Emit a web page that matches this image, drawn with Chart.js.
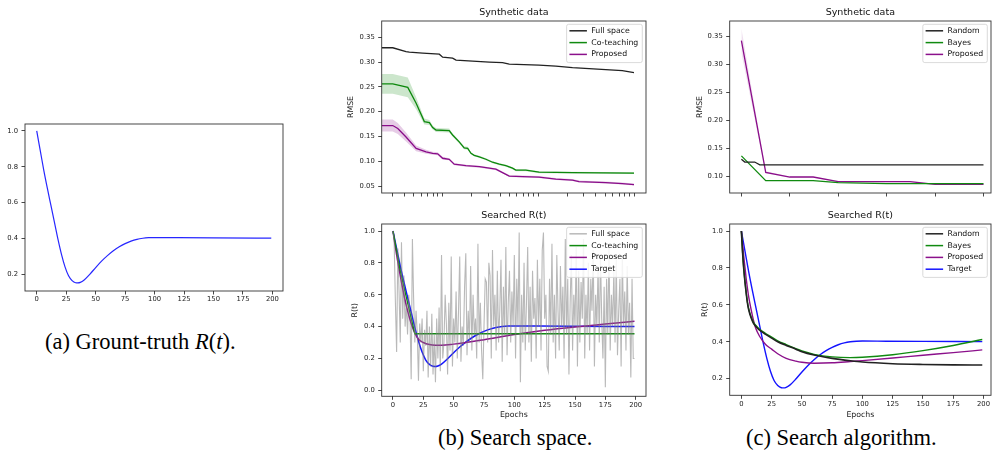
<!DOCTYPE html>
<html>
<head>
<meta charset="utf-8">
<script src="https://cdn.jsdelivr.net/npm/chart.js@4.4.0/dist/chart.umd.min.js"></script>
<style>
html, body { margin: 0; padding: 0; background: #fff; }
body { width: 993px; height: 458px; position: relative; overflow: hidden; }
canvas { position: absolute; }
.cap { position: absolute; font-family: "Liberation Serif", serif; font-size: 22.5px; line-height: 1; white-space: nowrap; color: #000; }
</style>
</head>
<body>
<canvas id="ga"></canvas>
<canvas id="gb1"></canvas>
<canvas id="gb2"></canvas>
<canvas id="gc1"></canvas>
<canvas id="gc2"></canvas>
<div class="cap" style="left:45px;top:331px">(a) Grount-truth <i>R</i>(<i>t</i>).</div>
<div class="cap" style="left:438px;top:427px">(b) Search space.</div>
<div class="cap" style="left:746px;top:427px">(c) Search algorithm.</div>
<script>
// ground truth R(t), same curve is the "Target" in (b) and (c)
const targetT = [0, 3, 6, 9, 12, 15, 18, 21, 24, 27, 30, 33, 35, 37, 40, 45, 50, 55, 60, 65, 70, 75, 80, 85, 90, 95, 100, 120, 150, 199];
const targetR = [1.0, 0.89, 0.78, 0.68, 0.585, 0.49, 0.395, 0.31, 0.24, 0.19, 0.163, 0.151, 0.15, 0.153, 0.165, 0.198, 0.236, 0.272, 0.303, 0.33, 0.352, 0.37, 0.384, 0.394, 0.4, 0.403, 0.404, 0.403, 0.402, 0.401];

// (b) top: RMSE vs iterations (log x)
const fullX = [2.33, 3.04, 4.18, 4.53, 6.24, 9.3, 10.08, 12.8, 13.9, 20.7, 30.9, 42.5, 49.9, 102, 153, 228, 340, 507, 755, 1000];
const fullRmse = [0.329, 0.329, 0.321, 0.320, 0.318, 0.316, 0.310, 0.308, 0.304, 0.302, 0.300, 0.299, 0.296, 0.294, 0.292, 0.289, 0.287, 0.285, 0.283, 0.279];
const coX = [2.33, 3.04, 4.36, 5.33, 6.49, 7.33, 7.93, 8.59, 11.8, 12.8, 15.0, 16.9, 18.4, 19.9, 21.5, 24.3, 28.5, 33.4, 39.3, 46.0, 54.0, 58.5, 74.4, 102, 228, 1000];
const coRmse = [0.256, 0.256, 0.249, 0.217, 0.180, 0.178, 0.168, 0.163, 0.162, 0.153, 0.139, 0.127, 0.126, 0.116, 0.112, 0.109, 0.104, 0.098, 0.094, 0.091, 0.086, 0.082, 0.082, 0.078, 0.077, 0.076];
const coStd = [0.020, 0.020, 0.020, 0.012, 0.006, 0.005, 0.004, 0.004, 0.004, 0.003, 0.003, 0.003, 0.003, 0.002, 0.002, 0.002, 0.002, 0.002, 0.002, 0.002, 0.002, 0.002, 0.002, 0.002, 0.002, 0.002];
const propX = [2.33, 3.04, 3.43, 4.18, 5.33, 6.76, 7.93, 8.94, 10.08, 11.8, 13.3, 17.6, 20.7, 24.3, 30.9, 36.2, 42.5, 49.9, 68.7, 102, 153, 228, 267, 507, 755, 1000];
const propRmse = [0.172, 0.172, 0.166, 0.149, 0.126, 0.119, 0.116, 0.115, 0.106, 0.104, 0.094, 0.091, 0.090, 0.089, 0.086, 0.084, 0.077, 0.070, 0.069, 0.068, 0.064, 0.062, 0.059, 0.057, 0.055, 0.053];
const propStd = [0.012, 0.012, 0.011, 0.009, 0.006, 0.004, 0.003, 0.003, 0.003, 0.002, 0.002, 0.002, 0.002, 0.002, 0.002, 0.002, 0.002, 0.002, 0.002, 0.002, 0.002, 0.002, 0.002, 0.002, 0.002, 0.002];

// (b) bottom: searched R(t)
const fullSpaceR = [
  1.0, 0.92, 0.55, 0.24, 0.89, 0.62, 0.3, 0.93, 0.45, 0.72, 0.4, 0.55, 0.35, 0.6, 0.48, 0.07, 0.95, 0.58, 0.3, 0.5,
  0.36, 0.06, 0.42, 0.3, 0.45, 0.12, 0.38, 0.28, 0.5, 0.08, 0.4, 0.15, 0.48, 0.1, 0.35, 0.05, 0.45, 0.2, 0.52, 0.12,
  0.85, 0.2, 0.3, 0.6, 0.42, 0.1, 0.55, 0.25, 0.84, 0.15, 0.45, 0.3, 0.62, 0.2, 0.5, 0.84, 0.18, 0.4, 0.28, 0.65,
  0.86, 0.22, 0.5, 0.3, 0.78, 0.25, 0.6, 0.35, 0.45, 0.2, 0.92, 0.3, 0.55, 0.25, 0.07, 0.4, 0.7, 0.68, 0.3, 0.8,
  0.72, 0.2, 0.88, 0.4, 0.6, 0.25, 0.75, 0.3, 0.5, 0.82, 0.18, 0.65, 0.35, 0.9, 0.22, 0.55, 0.75, 0.3, 0.62, 0.4,
  0.85, 0.2, 0.7, 0.4, 0.99, 0.05, 0.6, 0.3, 0.8, 0.25, 0.55, 0.9, 0.3, 0.65, 0.18, 0.75, 0.45, 0.58, 0.2, 0.82,
  0.4, 0.7, 0.25, 0.88, 0.99, 0.45, 0.6, 0.15, 0.12, 0.7, 0.35, 0.92, 0.3, 0.6, 0.2, 0.85, 0.5, 0.25, 0.78, 0.4,
  0.65, 0.2, 0.95, 0.35, 0.7, 0.1, 0.55, 0.85, 0.25, 0.6, 0.4, 0.9, 0.15, 0.75, 0.3, 0.68, 0.45, 0.95, 0.2, 0.6,
  0.35, 0.8, 0.25, 0.7, 0.5, 0.88, 0.15, 0.6, 0.4, 0.78, 0.3, 0.85, 0.45, 0.2, 0.65, 0.02, 0.7, 0.35, 0.9, 0.25,
  0.6, 0.4, 0.75, 0.3, 0.82, 0.22, 0.5, 0.7, 0.15, 0.85, 0.4, 0.62, 0.25, 0.78, 0.35, 0.55, 0.08, 0.7, 0.2, 0.2
];
const coT = [0, 6, 12, 18, 199];
const coR = [1.0, 0.75, 0.55, 0.355, 0.355];
const propT = [0, 3, 6, 9, 12, 15, 18, 21, 25, 30, 35, 40, 50, 60, 75, 100, 125, 150, 175, 199];
const propR = [1.0, 0.85, 0.72, 0.6, 0.5, 0.42, 0.36, 0.32, 0.3, 0.287, 0.283, 0.283, 0.29, 0.3, 0.318, 0.35, 0.377, 0.398, 0.416, 0.433];

// (c) top: RMSE per search algorithm
const randIt = [0, 2.8, 11, 15.2, 200];
const randRmse = [0.131, 0.126, 0.126, 0.121, 0.121];
const bayesIt = [0, 20.1, 59.3, 80, 120, 200];
const bayesRmse = [0.137, 0.093, 0.093, 0.0894, 0.0876, 0.0876];
const algIt = [0, 20.1, 40, 59.3, 80, 139.3, 160, 200];
const algRmse = [0.3417, 0.1077, 0.0994, 0.0994, 0.0911, 0.0911, 0.0864, 0.0864];
const algStd = [0.022, 0.002, 0.001, 0.001, 0.001, 0.001, 0.001, 0.001];

// (c) bottom: searched R(t)
const algT = [0, 1, 2, 3, 4, 5, 6, 8, 10, 12, 15, 20, 25, 30, 37, 45, 50, 60, 75, 90, 100, 125, 150, 175, 199];
const randR = [1.0, 0.88, 0.79, 0.72, 0.66, 0.61, 0.575, 0.53, 0.5, 0.483, 0.463, 0.44, 0.42, 0.4, 0.38, 0.36, 0.346, 0.328, 0.31, 0.297, 0.29, 0.281, 0.277, 0.275, 0.274];
const bayesR = [1.0, 0.885, 0.795, 0.725, 0.665, 0.615, 0.58, 0.535, 0.505, 0.488, 0.468, 0.445, 0.425, 0.405, 0.385, 0.363, 0.35, 0.332, 0.318, 0.314, 0.316, 0.33, 0.352, 0.38, 0.412];
const algR = [1.0, 0.93, 0.86, 0.8, 0.74, 0.69, 0.645, 0.575, 0.515, 0.47, 0.43, 0.385, 0.36, 0.335, 0.31, 0.295, 0.289, 0.284, 0.286, 0.293, 0.298, 0.312, 0.327, 0.341, 0.356];

const pts = (xs, ys) => xs.map((x, i) => ({x: x, y: ys[i]}));
const band = (xs, ys, sd, s) => xs.map((x, i) => ({x: x, y: ys[i] + s * sd[i]}));

Chart.defaults.font.family = 'DejaVu Sans';
Chart.defaults.color = '#222';
Chart.defaults.animation = false;
Chart.defaults.plugins.legend.display = false;
Chart.defaults.plugins.tooltip.enabled = false;
Chart.defaults.elements.point.radius = 0;

// matplotlib-ish frame, title and legend
Chart.register({
  id: 'mpl',
  afterDraw(chart, args, o) {
    const c = chart.ctx, a = chart.chartArea;
    c.save();
    c.strokeStyle = '#333';
    c.lineWidth = 0.9;
    c.strokeRect(a.left, a.top, a.right - a.left, a.bottom - a.top);
    if (o.title) {
      c.fillStyle = '#111';
      c.font = '9.5px "DejaVu Sans"';
      c.textAlign = 'center';
      c.textBaseline = 'middle';
      c.fillText(o.title, (a.left + a.right) / 2, a.top - 8);
    }
    if (o.legend) {
      const items = chart.data.datasets.filter(d => !d.band);
      c.font = '7.8px "DejaVu Sans"';
      const tw = Math.max(...items.map(d => c.measureText(d.label).width));
      const w = 2.8 + 17.5 + 4.3 + tw + 4;
      const h = 14.7 + (items.length - 1) * 11.8;
      const x0 = a.right - 3.7 - w, y0 = a.top + 3.3;
      c.beginPath();
      c.roundRect(x0, y0, w, h, 2);
      c.fillStyle = 'rgba(255,255,255,0.85)';
      c.fill();
      c.strokeStyle = '#d0d0d0';
      c.lineWidth = 0.8;
      c.stroke();
      items.forEach((d, i) => {
        const y = y0 + 6.5 + i * 11.8;
        c.strokeStyle = d.borderColor;
        c.lineWidth = 1.5;
        c.beginPath();
        c.moveTo(x0 + 2.8, y);
        c.lineTo(x0 + 20.3, y);
        c.stroke();
        c.fillStyle = '#111';
        c.textAlign = 'left';
        c.textBaseline = 'middle';
        c.fillText(d.label, x0 + 24.6, y);
      });
    }
    c.restore();
  }
});

function axis(o) {
  return {
    type: o.type || 'linear',
    min: o.min,
    max: o.max,
    border: {display: false},
    grid: {drawOnChartArea: false, drawTicks: true, tickLength: 3.5, color: '#333', tickWidth: 0.9},
    ticks: {
      display: o.show !== false, font: {size: 6.8}, color: '#222', padding: o.pad || 1,
      autoSkip: false, maxRotation: 0,
      callback: v => o.dec === undefined ? v : Number(v).toFixed(o.dec)
    },
    title: o.title ? {display: true, text: o.title, font: {size: 7.8}, color: '#222', padding: 0} : {display: false},
    afterBuildTicks: s => { s.ticks = o.ticks.map(v => ({value: v})); },
    afterFit: s => { if (s.isHorizontal()) s.height = o.size; else s.width = o.size; }
  };
}

function line(label, data, color, width, extra) {
  return Object.assign({label: label, data: data, borderColor: color, borderWidth: width || 1.3, fill: false, tension: 0, pointRadius: 0}, extra || {});
}

function panel(id, box, pad, datasets, xs, ys, mpl) {
  const cv = document.getElementById(id);
  cv.width = box.r - box.l + pad.l + pad.r;
  cv.height = box.b - box.t + pad.t + pad.b;
  cv.style.left = (box.l - pad.l) + 'px';
  cv.style.top = (box.t - pad.t) + 'px';
  xs.size = pad.b;
  ys.size = pad.l;
  return new Chart(cv, {
    type: 'line',
    data: {datasets: datasets},
    options: {
      responsive: false,
      layout: {padding: {left: 0, top: pad.t, right: pad.r, bottom: 0}},
      scales: {x: axis(xs), y: axis(ys)},
      plugins: {mpl: mpl}
    }
  });
}

const t25 = [0, 25, 50, 75, 100, 125, 150, 175, 200];
const smooth = {cubicInterpolationMode: 'monotone'};

// (a)
panel('ga', {l: 25, r: 283, t: 124, b: 291}, {l: 30, r: 8, t: 12, b: 16},
  [line('Target', pts(targetT, targetR), 'rgba(0,0,255,0.85)', 1.2, smooth)],
  {min: -9.95, max: 208.95, ticks: t25},
  {min: 0.105, max: 1.039, ticks: [0.2, 0.4, 0.6, 0.8, 1.0], dec: 1, pad: 3.5},
  {});

// (b) top
panel('gb1', {l: 382, r: 647, t: 21, b: 193}, {l: 35.7, r: 6, t: 21, b: 8},
  [
    line('Full space', pts(fullX, fullRmse), '#222', 1.3),
    line('co-hi', band(coX, coRmse, coStd, 1), 'rgba(0,0,0,0)', 0, {band: true, fill: '+1', backgroundColor: 'rgba(0,128,0,0.2)'}),
    line('co-lo', band(coX, coRmse, coStd, -1), 'rgba(0,0,0,0)', 0, {band: true}),
    line('Co-teaching', pts(coX, coRmse), '#108a10', 1.3),
    line('p-hi', band(propX, propRmse, propStd, 1), 'rgba(0,0,0,0)', 0, {band: true, fill: '+1', backgroundColor: 'rgba(128,0,128,0.2)'}),
    line('p-lo', band(propX, propRmse, propStd, -1), 'rgba(0,0,0,0)', 0, {band: true}),
    line('Proposed', pts(propX, propRmse), '#8b108b', 1.3)
  ],
  {type: 'logarithmic', min: 2.33, max: 1334, show: false,
   ticks: [3, 4, 5, 6, 7, 8, 9, 10, 20, 30, 40, 50, 60, 70, 80, 90, 100, 200, 300, 400, 500, 600, 700, 800, 900, 1000]},
  {min: 0.0359, max: 0.383, ticks: [0.05, 0.10, 0.15, 0.20, 0.25, 0.30, 0.35], dec: 2, pad: 3.5, title: 'RMSE'},
  {title: 'Synthetic data', legend: true});

// (b) bottom
panel('gb2', {l: 382, r: 647, t: 224, b: 397}, {l: 31.7, r: 6, t: 21, b: 23.7},
  [
    line('Full space', pts(fullSpaceR.map((v, i) => i), fullSpaceR), 'rgba(128,128,128,0.55)', 1.1),
    line('Co-teaching', pts(coT, coR), '#108a10', 1.3),
    line('Proposed', pts(propT, propR), '#8b108b', 1.5, smooth),
    line('Target', pts(targetT, targetR), '#1414ff', 1.5, smooth)
  ],
  {min: -9.3, max: 208.5, ticks: t25, title: 'Epochs'},
  {min: -0.0375, max: 1.044, ticks: [0.0, 0.2, 0.4, 0.6, 0.8, 1.0], dec: 1, pad: 3.5, title: 'R(t)'},
  {title: 'Searched R(t)', legend: true});

// (c) top
panel('gc1', {l: 730, r: 991.5, t: 21, b: 193}, {l: 34.7, r: 6, t: 21, b: 8},
  [
    line('Random', pts(randIt, randRmse), '#222', 1.3),
    line('Bayes', pts(bayesIt, bayesRmse), '#108a10', 1.3),
    line('a-hi', band(algIt, algRmse, algStd, 1), 'rgba(0,0,0,0)', 0, {band: true, fill: '+1', backgroundColor: 'rgba(128,0,128,0.12)'}),
    line('a-lo', band(algIt, algRmse, algStd, -1), 'rgba(0,0,0,0)', 0, {band: true}),
    line('Proposed', pts(algIt, algRmse), '#8b108b', 1.3)
  ],
  {min: -9.66, max: 206.2, show: false, ticks: [0, 40, 80, 120, 160, 200]},
  {min: 0.071, max: 0.3767, ticks: [0.10, 0.15, 0.20, 0.25, 0.30, 0.35], dec: 2, pad: 3.5, title: 'RMSE'},
  {title: 'Synthetic data', legend: true});

// (c) bottom
panel('gc2', {l: 730, r: 991.5, t: 224, b: 396}, {l: 29.7, r: 6, t: 21, b: 24.7},
  [
    line('Random', pts(algT, randR), '#222', 1.6, smooth),
    line('Bayes', pts(algT, bayesR), '#108a10', 1.4, smooth),
    line('Proposed', pts(algT, algR), '#8b108b', 1.4, smooth),
    line('Target', pts(targetT, targetR), '#1414ff', 1.4, smooth)
  ],
  {min: -9.66, max: 206.2, ticks: t25, title: 'Epochs'},
  {min: 0.110, max: 1.038, ticks: [0.2, 0.4, 0.6, 0.8, 1.0], dec: 1, pad: 3.5, title: 'R(t)'},
  {title: 'Searched R(t)', legend: true});
</script>
</body>
</html>
